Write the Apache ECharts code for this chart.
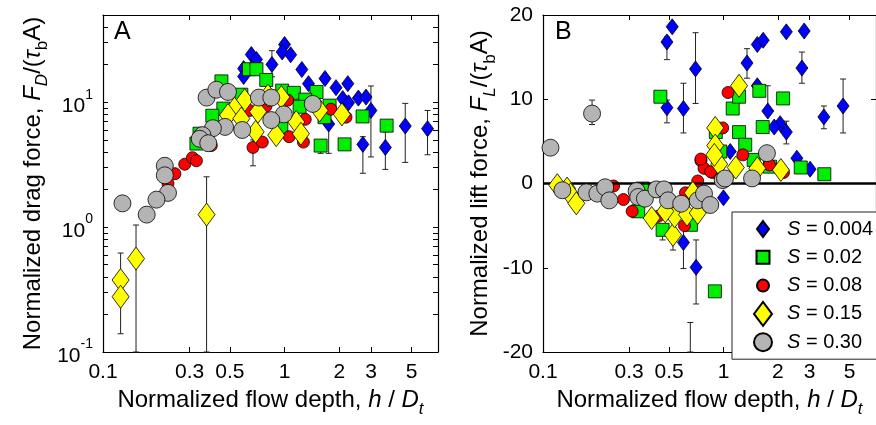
<!DOCTYPE html>
<html><head><meta charset="utf-8">
<script src="https://cdn.jsdelivr.net/npm/echarts@6/dist/echarts.min.js"></script>
<style>html,body{margin:0;padding:0;background:#fff}#c{width:876px;height:425px}</style>
</head><body><div id="c"></div>
<script>
// ---------- data (x = h/Dt, y = normalized force) ----------
const seriesNames = ['S = 0.004', 'S = 0.02', 'S = 0.08', 'S = 0.15', 'S = 0.30'];

const blueL = [[0.656,24.1],[0.70,22],[0.595,18.6],[0.595,16.1],[0.852,20.1],[1.0,29],[0.97,25.3],[1.08,24],[1.245,18.3],[1.355,14.1],[1.67,15.5],[1.92,13.1],[2.23,14.1],[2.09,10.7],[2.25,9.9],[2.55,10.8],[2.81,11.0],[2.99,8.6],[1.75,6.7],[2.7,4.6],[3.59,4.35],[4.62,6.45],[6.13,6.15]];
const greenL = [[0.637,18.4],[0.70,18.4],[0.793,15.1],[0.449,14.7],[0.97,12.4],[1.125,11.9],[1.50,12.1],[1.30,10.5],[1.77,9.4],[1.66,7.6],[2.69,7.7],[3.65,6.5],[1.58,4.5],[2.14,4.6],[0.46,8.9],[0.40,7.8],[0.34,5.6],[0.327,4.67],[0.578,11.5],[1.21,9.2],[0.96,6.3]];
const redL = [[1.04,10.4],[1.30,7.3],[1.80,8.8],[2.18,7.6],[0.67,4.35],[0.754,4.8],[1.06,5.3],[1.27,4.8],[0.282,3.19],[0.311,3.6],[0.327,3.4],[0.249,2.68],[0.228,2.24],[0.395,4.5],[0.642,8.6],[0.79,9.3]];
const yellowL = [[0.603,10.4],[0.53,8.9],[0.488,7.9],[0.578,7.4],[0.693,5.8],[0.90,5.45],[0.81,11.3],[0.96,11.0],[1.16,6.95],[1.23,5.6],[2.07,8.0],[1.56,8.6],[0.714,8.4],[0.125,0.377],[0.125,0.277],[0.152,0.56],[0.372,1.26]];
const grayL = [[0.372,10.9],[0.421,12.6],[0.488,12.1],[0.722,10.9],[0.845,10.9],[1.43,9.7],[0.99,8.0],[0.845,7.2],[0.585,6.0],[0.47,6.35],[0.403,6.2],[0.353,5.45],[0.341,5.1],[0.38,4.7],[0.219,3.1],[0.219,2.6],[0.228,1.88],[0.197,1.66],[0.174,1.26],[0.128,1.55]];
// error bars: [x, low, high]
const errL = [[0.852,16,25.9],[2.99,3.65,13.5],[1.75,3.9,8.1],[2.7,2.7,5.3],[3.59,2.9,5.8],[4.62,3.3,9.8],[6.13,3.8,8.6],[0.67,3.1,5],[0.125,0.14,0.62],[0.152,0.1,1.04],[0.372,0.1,2.53],[1.58,3.9,4.5]];

const blueR = [[0.52,18.6],[0.486,16.8],[0.70,13.6],[0.486,9.0],[0.60,8.9],[1.35,14.3],[1.54,16.5],[1.66,17.0],[2.23,18.0],[2.80,18.1],[2.72,13.7],[1.76,8.6],[2.06,7.1],[1.91,6.7],[2.23,6.1],[3.6,7.9],[4.6,9.2],[1.54,11.6],[2.55,3.0],[3.02,1.7],[1.09,3.8],[1.0,-1.7],[0.60,-7.0],[0.705,-9.95]];
const greenR = [[0.447,10.3],[1.125,8.9],[1.22,10.3],[1.58,11.0],[2.14,10.1],[1.65,6.7],[1.22,6.1],[1.32,4.6],[0.907,6.1],[2.68,1.9],[3.62,1.1],[0.96,3.8],[1.47,2.8],[1.81,2.0],[0.356,-0.6],[0.896,-12.8],[0.46,-5.5],[0.66,-4.9],[0.337,-3.3]];
const redR = [[1.06,10.8],[0.99,6.6],[1.28,3.4],[0.75,2.7],[0.78,1.8],[0.87,1.3],[1.80,2.2],[2.15,1.3],[0.246,-0.3],[0.279,-1.9],[0.312,-3.3],[0.608,-5.0],[0.434,-3.9],[0.616,-1.1],[0.72,0.3],[0.75,2.9],[0.85,1.4]];
const yellowR = [[1.22,11.6],[0.90,6.6],[0.90,4.5],[0.947,2.3],[1.17,1.9],[1.54,1.8],[2.08,1.6],[0.12,-0.2],[0.136,-0.6],[0.142,-1.3],[0.153,-2.35],[0.40,-4.1],[0.525,-6.1],[0.536,-3.9],[0.628,-3.7],[0.72,-3.5],[0.676,-1.1],[0.476,-3.3],[0.89,3.4]];
const grayR = [[0.187,8.3],[0.11,4.25],[1.74,3.6],[1.44,0.6],[0.99,0.4],[1.02,0.6],[0.128,-0.8],[0.174,-1.05],[0.20,-1.2],[0.221,-0.45],[0.233,-2.0],[0.33,-0.9],[0.337,-1.6],[0.367,-1.8],[0.425,-0.7],[0.468,-0.7],[0.493,-2.0],[0.583,-2.4],[0.72,-2.0],[0.78,-1.2],[0.845,-2.55]];
const errR = [[0.486,14.7,17.4],[0.70,9.5,17.9],[0.486,7.2,9.9],[0.60,6.0,11.9],[1.35,12.5,16.0],[2.72,11.9,15.6],[4.6,6.0,12.4],[3.6,6.5,9.2],[2.23,4.7,7.4],[0.187,7.0,9.9],[1.76,8.7,11.6],[0.60,-10.1,-5.1],[0.705,-14.3,-6.7],[0.525,-7.9,-6.1],[0.46,-6.7,-5.5],[0.655,-20,-16.5]];

// tick values
const xTicks = [0.1, 0.3, 0.5, 1, 2, 3, 5];
const yLogLabels = [0.1, 1, 10];
const yLogTicks = [0.1,0.2,0.3,0.4,0.5,0.6,0.7,0.8,0.9,1,2,3,4,5,6,7,8,9,10,20,30,40,50];
const yLinLabels = [-20, -10, 0, 10, 20];
const yLinTicks = [-10, 10];

// ---------- styling ----------
const FONT = '"Liberation Sans", Arial, sans-serif';
const colors = ['#0000ff', '#00ee00', '#ff0000', '#ffff00', '#b4b4b4'];
const symbols = ['diamond', 'rect', 'circle', 'diamond', 'circle'];
const sizes = [[12, 16], 13, 12, [17, 23], 17];
const legendIcons = [
  'path://M0,0M26,26M13,5L19,13L13,21L7,13Z',
  'path://M0,0M26,26M6.5,6.5L19.5,6.5L19.5,19.5L6.5,19.5Z',
  'path://M0,0M26,26M7,13A6,6 0 1 1 19,13A6,6 0 1 1 7,13Z',
  'path://M0,0M26,26M13,1L22,13L13,25L4,13Z',
  'path://M0,0M26,26M4,13A9,9 0 1 1 22,13A9,9 0 1 1 4,13Z'
];

function nameRich(size) {
  return {
    n: {fontSize: size, fontFamily: FONT, color: '#000', padding: [0,0,6,0], verticalAlign: 'bottom'},
    i: {fontSize: size, fontFamily: FONT, color: '#000', fontStyle: 'italic', padding: [0,0,6,0], verticalAlign: 'bottom'},
    s: {fontSize: Math.round(size*0.7), fontFamily: FONT, color: '#000', fontStyle: 'italic', verticalAlign: 'bottom'},
    u: {fontSize: Math.round(size*0.7), fontFamily: FONT, color: '#000', verticalAlign: 'bottom'}
  };
}
const TICKFS = 21;
const tickStyle = {show: true, inside: true, length: 5, lineStyle: {color: '#000', width: 1}};
const lineStyle = {show: true, onZero: false, lineStyle: {color: '#000', width: 1.2}};

function xAxes(gi, name) {
  return [
    {type: 'log', gridIndex: gi, position: 'bottom', min: 0.1, max: 7, logBase: 10,
     axisLine: lineStyle, splitLine: {show: false},
     axisTick: Object.assign({customValues: xTicks}, tickStyle),
     axisLabel: {customValues: xTicks, margin: 10, fontSize: TICKFS, fontFamily: FONT, color: '#000',
       formatter: v => String(+(+v).toPrecision(3))},
     name: name, nameLocation: 'middle', nameGap: 36,
     nameTextStyle: {rich: nameRich(24)}},
    {type: 'log', gridIndex: gi, position: 'top', min: 0.1, max: 7, logBase: 10,
     axisLine: lineStyle, splitLine: {show: false},
     axisTick: Object.assign({customValues: xTicks}, tickStyle),
     axisLabel: {show: false}}
  ];
}

const option = {
  animation: false,
  backgroundColor: '#fff',
  textStyle: {fontFamily: FONT},
  grid: [
    {left: 103, top: 15, width: 335, height: 337},
    {left: 543, top: 15, width: 335, height: 337}
  ],
  xAxis: [].concat(
    xAxes(0, '{n|Normalized flow depth, }{i|h}{n| / }{i|D}{s|t}'),
    xAxes(1, '{n|Normalized flow depth, }{i|h}{n| / }{i|D}{s|t}')
  ),
  yAxis: [
    {type: 'log', gridIndex: 0, position: 'left', min: 0.1, max: 50, logBase: 10,
     axisLine: lineStyle, splitLine: {show: false},
     axisTick: Object.assign({customValues: yLogTicks}, tickStyle),
     axisLabel: {customValues: yLogLabels, margin: 10, color: '#000',
       formatter: v => '{b|10}{p|' + Math.round(Math.log10(v)) + '}',
       rich: {b: {fontSize: TICKFS, fontFamily: FONT, color: '#000', padding: [8,0,0,0], verticalAlign: 'top'},
              p: {fontSize: 14, fontFamily: FONT, color: '#000', verticalAlign: 'top'}}},
     name: '{n|Normalized drag force, }{i|F}{s|D}{n|/(}{i|τ}{u|b}{n|A)}',
     nameLocation: 'middle', nameGap: 52, nameTextStyle: {rich: nameRich(24)}},
    {type: 'log', gridIndex: 0, position: 'right', min: 0.1, max: 50, logBase: 10,
     axisLine: lineStyle, splitLine: {show: false},
     axisTick: Object.assign({customValues: yLogTicks}, tickStyle),
     axisLabel: {show: false}},
    {type: 'value', gridIndex: 1, position: 'left', min: -20, max: 20, interval: 10,
     axisLine: lineStyle, splitLine: {show: false},
     axisTick: Object.assign({customValues: yLinTicks}, tickStyle),
     axisLabel: {customValues: yLinLabels, margin: 10, fontSize: TICKFS, fontFamily: FONT, color: '#000'},
     name: '{n|Normalized lift force, }{i|F}{s|L}{n|/(}{i|τ}{u|b}{n|A)}',
     nameLocation: 'middle', nameGap: 44, nameTextStyle: {rich: nameRich(24)}},
    {type: 'value', gridIndex: 1, position: 'right', min: -20, max: 20, interval: 10,
     axisLine: lineStyle, splitLine: {show: false},
     axisTick: Object.assign({customValues: yLinTicks}, tickStyle),
     axisLabel: {show: false}}
  ],
  legend: {
    left: 732, top: 212, orient: 'vertical', selectedMode: false,
    itemWidth: 26, itemHeight: 26, itemGap: 0.3,
    padding: [3, 10, 3, 17],
    backgroundColor: '#fff', borderColor: '#222', borderWidth: 1,
    data: seriesNames.map((n, k) => ({name: n, icon: legendIcons[k]})),
    formatter: name => '{i|S}{t| = ' + name.split('= ')[1] + '}',
    textStyle: {padding: [0,0,0,6], rich: {
      i: {fontSize: 20, fontFamily: FONT, fontStyle: 'italic', color: '#000'},
      t: {fontSize: 20, fontFamily: FONT, color: '#000'}}}
  },
  graphic: [
    {type: 'text', left: 114, top: 20, style: {text: 'A', font: '25px "Liberation Sans", Arial', fill: '#000'}},
    {type: 'text', left: 555, top: 20, style: {text: 'B', font: '25px "Liberation Sans", Arial', fill: '#000'}}
  ],
  series: []
};

function errSeries(data, xi, yi) {
  return {
    type: 'custom', xAxisIndex: xi, yAxisIndex: yi, z: 1, silent: true,
    encode: {x: 0, y: [1, 2]},
    data: data,
    renderItem: function (params, api) {
      const x = api.value(0), lo = api.value(1), hi = api.value(2);
      const p1 = api.coord([x, hi]), p2 = api.coord([x, lo]);
      const cw = 3, st = {stroke: '#222', lineWidth: 1};
      return {type: 'group', children: [
        {type: 'line', shape: {x1: p1[0], y1: p1[1], x2: p2[0], y2: p2[1]}, style: st},
        {type: 'line', shape: {x1: p1[0]-cw, y1: p1[1], x2: p1[0]+cw, y2: p1[1]}, style: st},
        {type: 'line', shape: {x1: p2[0]-cw, y1: p2[1], x2: p2[0]+cw, y2: p2[1]}, style: st}
      ]};
    }
  };
}

option.series.push(errSeries(errL, 0, 0));
option.series.push(errSeries(errR, 2, 2));
// zero line in panel B
option.series.push({
  type: 'scatter', name: 'zero', xAxisIndex: 2, yAxisIndex: 2, data: [], z: 1,
  markLine: {silent: true, symbol: 'none', label: {show: false}, animation: false,
    lineStyle: {color: '#000', width: 2.5, type: 'solid'}, data: [{yAxis: 0}]}
});

const leftData = [blueL, greenL, redL, yellowL, grayL];
const rightData = [blueR, greenR, redR, yellowR, grayR];
[[leftData, 0], [rightData, 2]].forEach(([sets, ai]) => {
  sets.forEach((d, k) => {
    option.series.push({
      type: 'scatter', name: seriesNames[k], xAxisIndex: ai, yAxisIndex: ai,
      data: d, symbol: symbols[k], symbolSize: sizes[k], z: 2 + k,
      itemStyle: {color: colors[k], borderColor: '#000', borderWidth: 0.8, opacity: 1},
      emphasis: {disabled: true}
    });
  });
});

const chart = echarts.init(document.getElementById('c'), null, {renderer: 'canvas'});
chart.setOption(option);
</script></body></html>
